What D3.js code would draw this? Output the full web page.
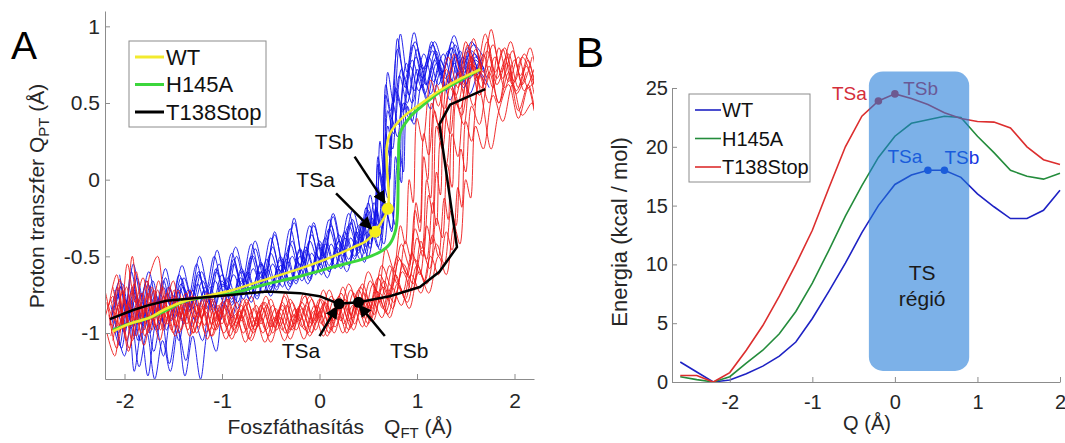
<!DOCTYPE html>
<html lang="hu">
<head>
    <meta charset="UTF-8">
    <title>Proton transzfer és energiaprofil</title>
    <script src="https://d3js.org/d3.v7.min.js"></script>
    <style>
        body {
            margin: 0;
            background-color: #ffffff;
            font-family: "Liberation Sans", Arial, sans-serif;
        }

        svg text {
            fill: #262626;
        }
    </style>
</head>
<body>
    <svg id="chart" width="1065" height="443"></svg>

    <script>
        // ---------- A panel adatai ----------
        const ticksAx = [-2, -1, 0, 1, 2];
        const ticksAy = [-1, -0.5, 0, 0.5, 1];

        // WT (kék) trajektóriák [Q_FT, Q_PT]
        const blueTraj1 = [[-2.12,-0.8],[-2.05,-0.66],[-1.98,-0.9],[-1.9,-0.72],[-1.82,-0.95],[-1.74,-0.7],[-1.66,-0.86],[-1.58,-0.64],[-1.5,-0.82],[-1.42,-0.68],[-1.33,-0.85],[-1.24,-0.62],[-1.15,-0.78],[-1.06,-0.6],[-0.97,-0.76],[-0.88,-0.55],[-0.79,-0.72],[-0.7,-0.5],[-0.6,-0.68],[-0.5,-0.48],[-0.4,-0.64],[-0.3,-0.42],[-0.2,-0.6],[-0.1,-0.4],[0.0,-0.56],[0.1,-0.32],[0.2,-0.5],[0.3,-0.3],[0.4,-0.46],[0.5,-0.2],[0.56,-0.35],[0.62,0.05],[0.66,-0.1],[0.7,0.45],[0.76,0.3],[0.84,0.72],[0.92,0.55],[1.0,0.85],[1.1,0.62],[1.2,0.8],[1.3,0.6],[1.4,0.82],[1.5,0.66],[1.6,0.8],[1.7,0.7]];
        const blueTraj2 = [[-2.1,-0.9],[-2.03,-1.1],[-1.96,-0.85],[-1.9,-1.25],[-1.83,-1.0],[-1.76,-1.28],[-1.68,-0.95],[-1.6,-1.15],[-1.52,-0.88],[-1.44,-1.05],[-1.36,-0.8],[-1.27,-0.92],[-1.18,-0.72],[-1.09,-0.86],[-1.0,-0.66],[-0.9,-0.8],[-0.8,-0.6],[-0.7,-0.74],[-0.6,-0.55],[-0.5,-0.7],[-0.4,-0.52],[-0.3,-0.66],[-0.2,-0.45],[-0.1,-0.62],[0.0,-0.4],[0.1,-0.56],[0.2,-0.36],[0.3,-0.52],[0.4,-0.3],[0.48,-0.44],[0.56,-0.15],[0.62,-0.3],[0.68,0.2],[0.72,0.0],[0.78,0.6],[0.86,0.45],[0.95,0.78],[1.05,0.6],[1.15,0.9],[1.25,0.68],[1.35,0.86],[1.45,0.62],[1.55,0.8],[1.65,0.68]];
        const blueTraj3 = [[-2.08,-0.7],[-2.0,-0.88],[-1.93,-0.6],[-1.85,-0.82],[-1.77,-0.66],[-1.69,-0.9],[-1.6,-0.7],[-1.52,-0.84],[-1.44,-0.62],[-1.35,-0.78],[-1.26,-0.55],[-1.17,-0.74],[-1.08,-0.5],[-0.99,-0.7],[-0.9,-0.48],[-0.8,-0.68],[-0.7,-0.42],[-0.6,-0.64],[-0.5,-0.38],[-0.4,-0.6],[-0.3,-0.32],[-0.2,-0.56],[-0.1,-0.3],[0.0,-0.52],[0.1,-0.26],[0.2,-0.48],[0.3,-0.22],[0.4,-0.44],[0.48,-0.18],[0.55,-0.36],[0.6,0.1],[0.64,-0.05],[0.68,0.55],[0.74,0.4],[0.8,0.92],[0.88,0.6],[0.96,0.88],[1.06,0.66],[1.16,0.84],[1.26,0.7],[1.36,0.9],[1.46,0.7],[1.56,0.84],[1.66,0.74]];
        const blueTraj4 = [[-2.15,-0.95],[-2.07,-0.75],[-2.0,-1.0],[-1.92,-0.8],[-1.84,-1.05],[-1.76,-0.82],[-1.68,-0.98],[-1.6,-0.76],[-1.52,-0.92],[-1.43,-0.72],[-1.34,-0.86],[-1.25,-0.68],[-1.16,-0.84],[-1.07,-0.66],[-0.98,-0.8],[-0.88,-0.62],[-0.78,-0.78],[-0.68,-0.58],[-0.58,-0.74],[-0.48,-0.55],[-0.38,-0.7],[-0.28,-0.5],[-0.18,-0.66],[-0.08,-0.48],[0.02,-0.62],[0.12,-0.42],[0.22,-0.58],[0.32,-0.38],[0.42,-0.52],[0.52,-0.3],[0.6,-0.44],[0.68,-0.2],[0.74,-0.32],[0.8,0.1],[0.84,-0.02],[0.88,0.5],[0.95,0.38],[1.02,0.7],[1.1,0.52],[1.2,0.76],[1.3,0.58],[1.4,0.8],[1.5,0.62],[1.6,0.78],[1.72,0.66]];
        const blueTraj5 = [[-2.1,-0.72],[-2.02,-0.95],[-1.94,-0.78],[-1.86,-1.05],[-1.78,-0.85],[-1.7,-1.12],[-1.62,-0.9],[-1.54,-1.2],[-1.46,-0.95],[-1.38,-1.28],[-1.3,-1.02],[-1.22,-1.3],[-1.14,-0.98],[-1.06,-1.12],[-0.98,-0.8],[-0.9,-0.9],[-0.8,-0.66],[-0.7,-0.8],[-0.6,-0.6],[-0.5,-0.76],[-0.4,-0.56],[-0.3,-0.7],[-0.2,-0.5],[-0.1,-0.66],[0.0,-0.44],[0.1,-0.6],[0.2,-0.4],[0.3,-0.55],[0.38,-0.34],[0.46,-0.48],[0.54,-0.25],[0.6,-0.38],[0.65,0.0],[0.7,-0.12],[0.74,0.4],[0.8,0.28],[0.87,0.66],[0.95,0.5],[1.04,0.74],[1.14,0.56],[1.24,0.78],[1.34,0.62],[1.44,0.84],[1.54,0.66],[1.64,0.78]];
        const blueTraj6 = [[-2.05,-0.62],[-1.98,-0.8],[-1.91,-0.55],[-1.83,-0.76],[-1.75,-0.6],[-1.67,-0.8],[-1.58,-0.58],[-1.5,-0.76],[-1.41,-0.56],[-1.32,-0.74],[-1.23,-0.5],[-1.14,-0.7],[-1.05,-0.46],[-0.96,-0.68],[-0.86,-0.44],[-0.76,-0.64],[-0.66,-0.4],[-0.56,-0.62],[-0.46,-0.36],[-0.36,-0.58],[-0.26,-0.28],[-0.16,-0.54],[-0.06,-0.3],[0.04,-0.5],[0.14,-0.22],[0.24,-0.46],[0.34,-0.2],[0.44,-0.4],[0.52,-0.1],[0.58,-0.3],[0.62,0.25],[0.66,0.05],[0.7,0.7],[0.76,0.5],[0.83,0.95],[0.9,0.7],[0.98,0.9],[1.08,0.72],[1.18,0.9],[1.28,0.74],[1.38,0.94],[1.48,0.76],[1.58,0.88],[1.68,0.8]];
        const blueTraj7 = [[-2.12,-0.88],[-2.04,-0.7],[-1.96,-0.92],[-1.88,-0.76],[-1.8,-0.98],[-1.72,-0.78],[-1.64,-0.94],[-1.56,-0.74],[-1.48,-0.9],[-1.4,-0.7],[-1.3,-0.84],[-1.2,-0.66],[-1.1,-0.82],[-1.0,-0.62],[-0.9,-0.78],[-0.8,-0.58],[-0.7,-0.74],[-0.6,-0.54],[-0.5,-0.72],[-0.4,-0.5],[-0.3,-0.68],[-0.2,-0.46],[-0.1,-0.64],[0.0,-0.42],[0.1,-0.6],[0.2,-0.4],[0.3,-0.56],[0.4,-0.34],[0.5,-0.5],[0.58,-0.28],[0.66,-0.42],[0.72,-0.15],[0.78,-0.3],[0.82,0.2],[0.86,0.05],[0.9,0.48],[0.97,0.36],[1.05,0.62],[1.14,0.46],[1.24,0.7],[1.34,0.52],[1.44,0.72],[1.54,0.56],[1.64,0.7],[1.74,0.6]];
        const blueTraj8 = [[-2.08,-0.98],[-2.0,-1.15],[-1.93,-0.92],[-1.85,-1.22],[-1.77,-1.0],[-1.69,-1.3],[-1.61,-1.05],[-1.53,-1.25],[-1.45,-0.98],[-1.37,-1.18],[-1.29,-0.9],[-1.2,-1.05],[-1.11,-0.78],[-1.02,-0.92],[-0.93,-0.7],[-0.84,-0.84],[-0.74,-0.62],[-0.64,-0.78],[-0.54,-0.58],[-0.44,-0.72],[-0.34,-0.52],[-0.24,-0.68],[-0.14,-0.46],[-0.04,-0.62],[0.06,-0.42],[0.16,-0.58],[0.26,-0.38],[0.36,-0.52],[0.44,-0.3],[0.52,-0.45],[0.58,-0.18],[0.64,-0.32],[0.68,0.3],[0.72,0.15],[0.78,0.58],[0.85,0.44],[0.93,0.74],[1.02,0.58],[1.12,0.8],[1.22,0.62],[1.32,0.84],[1.42,0.68],[1.52,0.86],[1.62,0.72]];
        const blueTraj9 = [[-2.1,-0.85],[-2.02,-0.68],[-1.95,-0.88],[-1.87,-0.64],[-1.79,-0.84],[-1.71,-0.66],[-1.63,-0.86],[-1.55,-0.7],[-1.47,-0.82],[-1.39,-0.64],[-1.3,-0.8],[-1.21,-0.6],[-1.12,-0.76],[-1.03,-0.55],[-0.94,-0.72],[-0.85,-0.5],[-0.76,-0.7],[-0.66,-0.45],[-0.56,-0.66],[-0.46,-0.34],[-0.36,-0.62],[-0.26,-0.25],[-0.16,-0.58],[-0.06,-0.28],[0.04,-0.54],[0.14,-0.24],[0.24,-0.5],[0.34,-0.26],[0.42,-0.44],[0.5,-0.15],[0.56,-0.32],[0.6,0.15],[0.64,0.0],[0.68,0.62],[0.73,0.45],[0.8,0.85],[0.88,0.66],[0.97,0.96],[1.06,0.72],[1.16,0.88],[1.26,0.7],[1.36,0.86],[1.46,0.72],[1.56,0.9],[1.66,0.76]];
        const blueTraj10 = [[-2.14,-0.82],[-2.06,-1.0],[-1.99,-0.78],[-1.91,-0.96],[-1.83,-0.74],[-1.75,-0.92],[-1.67,-0.76],[-1.59,-0.95],[-1.51,-0.78],[-1.43,-0.9],[-1.35,-0.72],[-1.26,-0.88],[-1.17,-0.7],[-1.08,-0.84],[-0.99,-0.68],[-0.9,-0.82],[-0.81,-0.64],[-0.72,-0.78],[-0.62,-0.6],[-0.52,-0.74],[-0.42,-0.58],[-0.32,-0.72],[-0.22,-0.54],[-0.12,-0.68],[-0.02,-0.5],[0.08,-0.64],[0.18,-0.44],[0.28,-0.6],[0.38,-0.4],[0.46,-0.54],[0.54,-0.32],[0.62,-0.46],[0.68,-0.2],[0.74,-0.34],[0.78,0.15],[0.82,0.0],[0.86,0.5],[0.92,0.4],[1.0,0.72],[1.08,0.56],[1.18,0.78],[1.28,0.6],[1.38,0.76],[1.48,0.6],[1.58,0.74],[1.7,0.62]];
        const blueTraj11 = [[-2.06,-0.75],[-1.99,-0.95],[-1.92,-0.7],[-1.84,-0.9],[-1.76,-0.68],[-1.68,-0.88],[-1.6,-0.66],[-1.51,-0.86],[-1.42,-0.64],[-1.33,-0.82],[-1.24,-0.6],[-1.15,-0.8],[-1.06,-0.58],[-0.97,-0.76],[-0.88,-0.52],[-0.78,-0.74],[-0.68,-0.5],[-0.58,-0.7],[-0.48,-0.44],[-0.38,-0.66],[-0.28,-0.4],[-0.18,-0.62],[-0.08,-0.36],[0.02,-0.58],[0.12,-0.3],[0.22,-0.54],[0.32,-0.28],[0.4,-0.48],[0.48,-0.22],[0.54,-0.4],[0.6,-0.05],[0.65,-0.2],[0.7,0.35],[0.75,0.2],[0.82,0.68],[0.9,0.5],[0.99,0.8],[1.09,0.62],[1.19,0.84],[1.29,0.66],[1.39,0.88],[1.49,0.7],[1.59,0.82],[1.69,0.72]];
        const blueTraj12 = [[-2.13,-0.9],[-2.05,-1.08],[-1.98,-0.82],[-1.9,-1.02],[-1.82,-0.8],[-1.74,-1.0],[-1.66,-0.78],[-1.57,-0.98],[-1.48,-0.76],[-1.39,-0.94],[-1.3,-0.72],[-1.21,-0.9],[-1.12,-0.7],[-1.03,-0.86],[-0.94,-0.64],[-0.84,-0.8],[-0.74,-0.6],[-0.64,-0.76],[-0.54,-0.52],[-0.44,-0.7],[-0.34,-0.48],[-0.24,-0.66],[-0.14,-0.44],[-0.04,-0.6],[0.06,-0.38],[0.16,-0.56],[0.26,-0.34],[0.36,-0.5],[0.44,-0.26],[0.52,-0.42],[0.58,-0.2],[0.63,-0.36],[0.67,0.1],[0.71,-0.05],[0.75,0.5],[0.81,0.36],[0.89,0.76],[0.97,0.58],[1.07,0.82],[1.17,0.64],[1.27,0.82],[1.37,0.64],[1.47,0.8],[1.57,0.68],[1.67,0.8]];

        // T138Stop (piros) trajektóriák
        const redTraj1 = [[-2.18,-0.8],[-2.1,-1.0],[-2.02,-0.72],[-1.95,-0.95],[-1.88,-0.6],[-1.8,-0.88],[-1.72,-0.7],[-1.64,-0.92],[-1.56,-0.74],[-1.48,-0.95],[-1.4,-0.78],[-1.31,-0.96],[-1.22,-0.8],[-1.13,-0.98],[-1.04,-0.82],[-0.95,-0.96],[-0.85,-0.8],[-0.75,-0.98],[-0.65,-0.82],[-0.55,-0.98],[-0.45,-0.84],[-0.35,-1.0],[-0.25,-0.84],[-0.15,-0.98],[-0.05,-0.82],[0.05,-0.96],[0.15,-0.78],[0.25,-0.94],[0.35,-0.74],[0.45,-0.9],[0.55,-0.68],[0.65,-0.84],[0.75,-0.58],[0.85,-0.74],[0.95,-0.48],[1.03,-0.62],[1.1,-0.3],[1.15,-0.42],[1.2,0.05],[1.24,-0.1],[1.28,0.45],[1.34,0.3],[1.42,0.7],[1.5,0.52],[1.6,0.85],[1.7,0.62],[1.8,0.8],[1.9,0.6],[2.0,0.78],[2.1,0.58],[2.2,0.72]];
        const redTraj2 = [[-2.15,-0.95],[-2.07,-0.7],[-2.0,-0.98],[-1.92,-0.5],[-1.85,-0.86],[-1.77,-0.66],[-1.69,-0.9],[-1.61,-0.7],[-1.53,-0.92],[-1.45,-0.72],[-1.36,-0.94],[-1.27,-0.76],[-1.18,-0.95],[-1.09,-0.78],[-1.0,-0.94],[-0.9,-0.76],[-0.8,-0.92],[-0.7,-0.76],[-0.6,-0.94],[-0.5,-0.78],[-0.4,-0.95],[-0.3,-0.78],[-0.2,-0.92],[-0.1,-0.76],[0.0,-0.9],[0.1,-0.72],[0.2,-0.88],[0.3,-0.68],[0.4,-0.82],[0.5,-0.6],[0.6,-0.74],[0.68,-0.45],[0.76,-0.58],[0.83,-0.3],[0.88,-0.42],[0.92,0.0],[0.96,-0.15],[1.0,0.4],[1.06,0.25],[1.14,0.65],[1.22,0.48],[1.32,0.8],[1.42,0.6],[1.52,0.88],[1.62,0.66],[1.72,0.84],[1.82,0.62],[1.92,0.76],[2.02,0.56],[2.12,0.7]];
        const redTraj3 = [[-2.12,-1.05],[-2.04,-0.85],[-1.96,-1.12],[-1.88,-0.9],[-1.8,-1.08],[-1.72,-0.88],[-1.64,-1.05],[-1.56,-0.86],[-1.48,-1.02],[-1.39,-0.84],[-1.3,-1.0],[-1.2,-0.84],[-1.1,-1.02],[-1.0,-0.86],[-0.9,-1.04],[-0.8,-0.88],[-0.7,-1.05],[-0.6,-0.9],[-0.5,-1.06],[-0.4,-0.9],[-0.3,-1.04],[-0.2,-0.88],[-0.1,-1.02],[0.0,-0.86],[0.1,-1.0],[0.2,-0.84],[0.3,-0.98],[0.4,-0.8],[0.5,-0.94],[0.6,-0.76],[0.7,-0.88],[0.8,-0.68],[0.9,-0.8],[1.0,-0.56],[1.1,-0.68],[1.2,-0.42],[1.28,-0.55],[1.35,-0.2],[1.4,-0.3],[1.45,0.2],[1.5,0.05],[1.56,0.48],[1.64,0.36],[1.74,0.7],[1.84,0.5],[1.94,0.82],[2.04,0.6],[2.14,0.78],[2.22,0.55]];
        const redTraj4 = [[-2.2,-0.72],[-2.12,-0.9],[-2.05,-0.65],[-1.97,-0.86],[-1.9,-0.68],[-1.82,-0.9],[-1.74,-0.62],[-1.66,-0.5],[-1.58,-0.8],[-1.5,-0.66],[-1.42,-0.88],[-1.33,-0.72],[-1.24,-0.9],[-1.15,-0.74],[-1.06,-0.92],[-0.97,-0.76],[-0.88,-0.94],[-0.78,-0.78],[-0.68,-0.96],[-0.58,-0.8],[-0.48,-0.96],[-0.38,-0.8],[-0.28,-0.96],[-0.18,-0.8],[-0.08,-0.94],[0.02,-0.78],[0.12,-0.92],[0.22,-0.74],[0.32,-0.88],[0.42,-0.7],[0.52,-0.84],[0.62,-0.62],[0.72,-0.76],[0.82,-0.52],[0.92,-0.64],[1.0,-0.38],[1.06,-0.5],[1.12,-0.1],[1.16,-0.22],[1.2,0.35],[1.26,0.2],[1.34,0.6],[1.44,0.46],[1.54,0.78],[1.64,0.55],[1.74,0.74],[1.84,0.5],[1.94,0.7],[2.04,0.45],[2.14,0.62],[2.2,0.48]];
        const redTraj5 = [[-2.16,-0.88],[-2.08,-1.1],[-2.0,-0.86],[-1.92,-1.05],[-1.84,-0.82],[-1.76,-1.0],[-1.68,-0.8],[-1.6,-0.98],[-1.52,-0.82],[-1.44,-1.0],[-1.35,-0.84],[-1.26,-1.0],[-1.17,-0.86],[-1.08,-0.98],[-0.98,-0.82],[-0.88,-0.98],[-0.78,-0.84],[-0.68,-1.0],[-0.58,-0.84],[-0.48,-1.0],[-0.38,-0.82],[-0.28,-0.98],[-0.18,-0.84],[-0.08,-1.0],[0.02,-0.84],[0.12,-0.98],[0.22,-0.8],[0.32,-0.96],[0.42,-0.78],[0.52,-0.92],[0.62,-0.74],[0.72,-0.9],[0.82,-0.7],[0.92,-0.84],[1.02,-0.6],[1.12,-0.74],[1.22,-0.5],[1.3,-0.62],[1.38,-0.3],[1.44,-0.42],[1.5,0.0],[1.55,-0.12],[1.6,0.35],[1.68,0.2],[1.78,0.55],[1.88,0.38],[1.98,0.62],[2.08,0.42],[2.18,0.5],[2.22,0.4]];
        const redTraj6 = [[-2.14,-0.78],[-2.06,-0.96],[-1.98,-0.7],[-1.9,-0.92],[-1.82,-0.74],[-1.74,-0.96],[-1.66,-0.72],[-1.58,-0.94],[-1.5,-0.76],[-1.42,-0.98],[-1.33,-0.8],[-1.24,-0.96],[-1.15,-0.8],[-1.06,-0.98],[-0.96,-0.82],[-0.86,-1.0],[-0.76,-0.82],[-0.66,-0.98],[-0.56,-0.8],[-0.46,-0.96],[-0.36,-0.76],[-0.26,-0.94],[-0.16,-0.74],[-0.06,-0.92],[0.04,-0.72],[0.14,-0.92],[0.24,-0.7],[0.34,-0.9],[0.44,-0.68],[0.54,-0.84],[0.64,-0.56],[0.74,-0.7],[0.84,-0.42],[0.92,-0.56],[0.98,-0.2],[1.03,-0.34],[1.07,0.15],[1.11,0.0],[1.15,0.5],[1.22,0.36],[1.3,0.72],[1.4,0.55],[1.5,0.9],[1.6,0.68],[1.7,0.95],[1.8,0.7],[1.9,0.86],[2.0,0.64],[2.1,0.82],[2.2,0.66]];
        const redTraj7 = [[-2.18,-1.0],[-2.1,-1.15],[-2.03,-0.9],[-1.95,-1.1],[-1.87,-0.85],[-1.79,-1.02],[-1.71,-0.8],[-1.63,-0.98],[-1.55,-0.78],[-1.47,-0.96],[-1.38,-0.8],[-1.29,-1.0],[-1.2,-0.82],[-1.11,-1.02],[-1.02,-0.84],[-0.92,-1.02],[-0.82,-0.86],[-0.72,-1.04],[-0.62,-0.86],[-0.52,-1.02],[-0.42,-0.86],[-0.32,-1.0],[-0.22,-0.84],[-0.12,-1.0],[-0.02,-0.82],[0.08,-1.02],[0.18,-0.82],[0.28,-1.0],[0.38,-0.8],[0.48,-0.96],[0.58,-0.72],[0.68,-0.86],[0.78,-0.62],[0.88,-0.78],[0.98,-0.52],[1.08,-0.66],[1.16,-0.36],[1.22,-0.5],[1.28,-0.12],[1.32,-0.26],[1.36,0.3],[1.42,0.15],[1.5,0.62],[1.58,0.48],[1.68,0.82],[1.78,0.6],[1.88,0.85],[1.98,0.62],[2.08,0.8],[2.2,0.62]];
        const redTraj8 = [[-2.12,-0.7],[-2.04,-0.88],[-1.97,-0.55],[-1.89,-0.8],[-1.81,-0.64],[-1.73,-0.86],[-1.65,-0.66],[-1.57,-0.9],[-1.49,-0.72],[-1.41,-0.92],[-1.32,-0.76],[-1.23,-0.94],[-1.14,-0.76],[-1.05,-0.96],[-0.95,-0.78],[-0.85,-0.96],[-0.75,-0.78],[-0.65,-0.94],[-0.55,-0.76],[-0.45,-0.92],[-0.35,-0.74],[-0.25,-0.9],[-0.15,-0.76],[-0.05,-0.94],[0.05,-0.8],[0.15,-1.0],[0.25,-0.82],[0.35,-0.98],[0.45,-0.78],[0.55,-0.92],[0.65,-0.7],[0.75,-0.84],[0.85,-0.6],[0.95,-0.72],[1.05,-0.46],[1.13,-0.58],[1.2,-0.25],[1.26,-0.38],[1.31,0.1],[1.36,-0.05],[1.4,0.5],[1.48,0.36],[1.56,0.8],[1.66,0.6],[1.76,0.98],[1.86,0.7],[1.96,0.9],[2.06,0.68],[2.16,0.86],[2.22,0.7]];
        const redTraj9 = [[-2.2,-0.9],[-2.12,-0.76],[-2.04,-0.98],[-1.96,-0.8],[-1.88,-1.02],[-1.8,-0.82],[-1.72,-0.98],[-1.64,-0.8],[-1.56,-0.94],[-1.48,-0.78],[-1.39,-0.92],[-1.3,-0.76],[-1.21,-0.9],[-1.12,-0.76],[-1.03,-0.92],[-0.94,-0.78],[-0.84,-0.94],[-0.74,-0.8],[-0.64,-0.96],[-0.54,-0.82],[-0.44,-0.98],[-0.34,-0.82],[-0.24,-0.98],[-0.14,-0.82],[-0.04,-0.98],[0.06,-0.8],[0.16,-0.96],[0.26,-0.78],[0.36,-0.94],[0.46,-0.74],[0.56,-0.88],[0.66,-0.66],[0.76,-0.8],[0.86,-0.55],[0.96,-0.68],[1.04,-0.4],[1.1,-0.52],[1.16,-0.15],[1.2,-0.3],[1.24,0.25],[1.3,0.1],[1.38,0.58],[1.46,0.42],[1.56,0.76],[1.66,0.55],[1.76,0.2],[1.84,0.45],[1.94,0.62],[2.04,0.4],[2.14,0.6],[2.2,0.45]];
        const redTraj10 = [[-2.16,-0.82],[-2.08,-0.62],[-2.0,-0.9],[-1.92,-0.72],[-1.84,-0.94],[-1.76,-0.74],[-1.68,-0.96],[-1.6,-0.76],[-1.52,-0.98],[-1.44,-0.8],[-1.35,-0.98],[-1.26,-0.82],[-1.17,-1.0],[-1.08,-0.84],[-0.98,-1.0],[-0.88,-0.84],[-0.78,-1.0],[-0.68,-0.84],[-0.58,-1.0],[-0.48,-0.82],[-0.38,-0.98],[-0.28,-0.8],[-0.18,-0.96],[-0.08,-0.78],[0.02,-0.94],[0.12,-0.76],[0.22,-0.92],[0.32,-0.72],[0.42,-0.88],[0.52,-0.66],[0.62,-0.8],[0.72,-0.56],[0.8,-0.68],[0.88,-0.4],[0.94,-0.52],[0.99,-0.15],[1.03,-0.28],[1.07,0.3],[1.12,0.16],[1.2,0.62],[1.28,0.46],[1.38,0.82],[1.48,0.62],[1.58,0.92],[1.68,0.7],[1.78,0.88],[1.88,0.66],[1.98,0.84],[2.08,0.62],[2.18,0.8]];
        const redTraj11 = [[-2.1,-0.92],[-2.02,-0.74],[-1.94,-0.96],[-1.86,-0.78],[-1.78,-0.94],[-1.7,-0.72],[-1.62,-0.9],[-1.54,-0.7],[-1.46,-0.88],[-1.37,-0.74],[-1.28,-0.9],[-1.19,-0.78],[-1.1,-0.94],[-1.0,-0.8],[-0.9,-0.96],[-0.8,-0.82],[-0.7,-0.98],[-0.6,-0.82],[-0.5,-0.96],[-0.4,-0.84],[-0.3,-0.98],[-0.2,-0.82],[-0.1,-0.96],[0.0,-0.78],[0.1,-0.94],[0.2,-0.76],[0.3,-0.92],[0.4,-0.72],[0.5,-0.86],[0.6,-0.64],[0.7,-0.78],[0.8,-0.5],[0.9,-0.62],[0.98,-0.32],[1.05,-0.45],[1.1,0.0],[1.14,-0.12],[1.18,0.45],[1.24,0.3],[1.32,0.68],[1.42,0.5],[1.52,0.84],[1.62,0.64],[1.72,0.9],[1.82,0.66],[1.92,0.8],[2.02,0.58],[2.12,0.74],[2.2,0.56]];
        const redTraj12 = [[-2.14,-1.02],[-2.06,-0.82],[-1.98,-1.05],[-1.9,-0.84],[-1.82,-1.0],[-1.74,-0.8],[-1.66,-0.98],[-1.58,-0.82],[-1.5,-1.0],[-1.42,-0.84],[-1.33,-1.02],[-1.24,-0.86],[-1.15,-1.04],[-1.06,-0.86],[-0.96,-1.04],[-0.86,-0.88],[-0.76,-1.06],[-0.66,-0.9],[-0.56,-1.06],[-0.46,-0.9],[-0.36,-1.05],[-0.26,-0.88],[-0.16,-1.04],[-0.06,-0.86],[0.04,-1.02],[0.14,-0.84],[0.24,-1.0],[0.34,-0.82],[0.44,-0.96],[0.54,-0.78],[0.64,-0.9],[0.74,-0.7],[0.84,-0.82],[0.94,-0.62],[1.04,-0.74],[1.14,-0.5],[1.22,-0.62],[1.3,-0.34],[1.36,-0.46],[1.42,-0.05],[1.46,-0.18],[1.5,0.38],[1.56,0.25],[1.64,0.68],[1.74,0.5],[1.84,0.86],[1.94,0.64],[2.04,0.8],[2.14,0.6],[2.22,0.66]];

        const blueTrajs = [blueTraj1, blueTraj2, blueTraj3, blueTraj4, blueTraj5, blueTraj6,
                           blueTraj7, blueTraj8, blueTraj9, blueTraj10, blueTraj11, blueTraj12];
        const redTrajs = [redTraj1, redTraj2, redTraj3, redTraj4, redTraj5, redTraj6,
                          redTraj7, redTraj8, redTraj9, redTraj10, redTraj11, redTraj12];

        // átlagos útvonalak
        const pathWT = [[-2.12,-0.99],[-1.95,-0.94],[-1.74,-0.9],[-1.6,-0.85],[-1.37,-0.79],[-1.1,-0.75],[-0.89,-0.72],[-0.6,-0.66],[-0.2,-0.58],[0.14,-0.5],[0.35,-0.44],[0.48,-0.4],[0.57,-0.34],[0.7,-0.19],[0.69,0.1],[0.69,0.22],[0.73,0.31],[0.86,0.41],[1.05,0.5],[1.23,0.58],[1.45,0.66],[1.65,0.72]];
        const pathH145A = [[-2.12,-0.98],[-1.95,-0.94],[-1.74,-0.9],[-1.6,-0.86],[-1.37,-0.79],[-1.1,-0.76],[-0.89,-0.74],[-0.6,-0.69],[-0.2,-0.63],[0.14,-0.57],[0.48,-0.51],[0.65,-0.46],[0.72,-0.42],[0.78,-0.33],[0.8,-0.22],[0.81,0.13],[0.83,0.31],[0.93,0.41],[1.05,0.48],[1.23,0.57],[1.45,0.65],[1.65,0.72]];
        const pathT138 = [[-2.15,-0.91],[-1.91,-0.85],[-1.76,-0.82],[-1.57,-0.79],[-1.23,-0.77],[-0.89,-0.75],[-0.54,-0.73],[-0.2,-0.74],[0.0,-0.76],[0.2,-0.81],[0.4,-0.8],[0.72,-0.76],[1.03,-0.7],[1.23,-0.6],[1.41,-0.44],[1.23,0.36],[1.34,0.49],[1.7,0.59]];

        const tsWT = [[0.57, -0.34], [0.7, -0.19]];
        const tsT138 = [[0.2, -0.81], [0.4, -0.8]];

        // feliratok és nyilak (szöveg, hely, nyíl kezdete, nyíl vége)
        const labelsA = ["TSb", "TSa", "TSa", "TSb"];
        const labelPosA = [[0.15, 0.2], [-0.04, -0.05], [-0.19, -1.16], [0.92, -1.16]];
        const arrowFromA = [[0.36, 0.15], [0.17, -0.09], [0.0, -1.02], [0.67, -1.02]];
        const arrowToA = [[0.67, -0.15], [0.53, -0.32], [0.18, -0.83], [0.41, -0.82]];

        const legendNamesA = ["WT", "H145A", "T138Stop"];
        const legendColorsA = ["#f2ea2e", "#3cd63c", "#000000"];

        // ---------- B panel adatai ----------
        const qGrid = [-2.6,-2.4,-2.2,-2.0,-1.8,-1.6,-1.4,-1.2,-1.0,-0.8,-0.6,-0.4,-0.2,0,0.2,0.4,0.6,0.8,1.0,1.2,1.4,1.6,1.8,2.0];
        const energyWT = [1.7,0.85,0.0,0.17,0.7,1.35,2.2,3.4,5.4,7.7,10.1,12.7,15.0,16.8,17.6,18.0,18.0,17.4,16.0,14.9,13.9,13.9,14.6,16.3];
        const energyH145A = [0.45,0.2,0.0,0.45,1.6,2.7,4.1,6.0,8.4,11.2,14.1,16.7,19.1,20.9,22.0,22.3,22.6,22.5,20.9,19.5,18.0,17.5,17.25,17.75];
        const energyT138 = [0.55,0.55,0.0,0.8,2.7,4.8,7.3,10.0,12.9,16.5,20.0,22.6,23.9,24.5,24.1,23.6,22.9,22.4,22.15,22.1,21.6,20.0,18.9,18.5];

        const ticksBx = [-2, -1, 0, 1, 2];
        const ticksBy = [0, 5, 10, 15, 20, 25];

        const tsPointsRed = [[-0.2, 23.9], [0, 24.5]];
        const tsPointsBlue = [[0.4, 18.0], [0.6, 18.0]];
        const tsLabelsB = ["TSa", "TSb", "TSa", "TSb"];
        const tsLabelPosB = [[-0.34, 24.0], [0.1, 24.4], [-0.09, 18.6], [0.6, 18.5]];
        const tsRegion = [-0.315, 0.9, 0.94, 26.4];   // x0, x1, y0, y1

        const legendNamesB = ["WT", "H145A", "T138Stop"];
        const legendColorsB = ["#1e22c4", "#248c3c", "#dc2e2e"];

        // ---------- rajzolás ----------
        const FONT = '"Liberation Sans", Arial, sans-serif';
        const AXIS_COLOR = "#8c8c8c";
        const svg = d3.select("#chart");

        function styleAxis(sel, size) {
            sel.attr("font-family", FONT).attr("font-size", size);
            sel.select(".domain").attr("stroke", AXIS_COLOR);
            sel.selectAll(".tick line").attr("stroke", AXIS_COLOR);
            sel.selectAll(".tick text").attr("fill", "#262626");
        }

        // ===== A panel =====
        const xA = d3.scaleLinear().domain([-2.2, 2.2]).range([105, 534]);
        const yA = d3.scaleLinear().domain([-1.3, 1.1]).range([379, 11]);

        svg.append("clipPath").attr("id", "clipA")
            .append("rect")
            .attr("x", xA(-2.2)).attr("y", yA(1.1))
            .attr("width", xA(2.2) - xA(-2.2))
            .attr("height", yA(-1.3) - yA(1.1));

        const gA = svg.append("g");
        const plotA = gA.append("g").attr("clip-path", "url(#clipA)");

        const wiggle = d3.line()
            .x(d => xA(d[0]))
            .y(d => yA(d[1]))
            .curve(d3.curveCatmullRom.alpha(0.5));

        plotA.selectAll(".blue-traj")
            .data(blueTrajs)
            .enter()
            .append("path")
            .attr("class", "blue-traj")
            .attr("d", wiggle)
            .attr("fill", "none")
            .attr("stroke", "#1010e8")
            .attr("stroke-width", 1)
            .attr("stroke-opacity", 0.9);

        plotA.selectAll(".red-traj")
            .data(redTrajs)
            .enter()
            .append("path")
            .attr("class", "red-traj")
            .attr("d", wiggle)
            .attr("fill", "none")
            .attr("stroke", "#ee1a1a")
            .attr("stroke-width", 1)
            .attr("stroke-opacity", 0.9);

        const smoothA = d3.line()
            .x(d => xA(d[0]))
            .y(d => yA(d[1]))
            .curve(d3.curveCatmullRom.alpha(0.5));
        const straightA = d3.line()
            .x(d => xA(d[0]))
            .y(d => yA(d[1]));

        plotA.append("path").attr("d", smoothA(pathH145A))
            .attr("fill", "none").attr("stroke", legendColorsA[1]).attr("stroke-width", 3);
        plotA.append("path").attr("d", smoothA(pathWT))
            .attr("fill", "none").attr("stroke", legendColorsA[0]).attr("stroke-width", 2.5);
        plotA.append("path").attr("d", straightA(pathT138))
            .attr("fill", "none").attr("stroke", "#000").attr("stroke-width", 2.5)
            .attr("stroke-linejoin", "round");

        plotA.selectAll(".ts-wt")
            .data(tsWT)
            .enter()
            .append("circle")
            .attr("cx", d => xA(d[0]))
            .attr("cy", d => yA(d[1]))
            .attr("r", 6)
            .attr("fill", "#f5ee1c");

        plotA.selectAll(".ts-t138")
            .data(tsT138)
            .enter()
            .append("circle")
            .attr("cx", d => xA(d[0]))
            .attr("cy", d => yA(d[1]))
            .attr("r", 5.5)
            .attr("fill", "#000");

        // nyilak
        svg.append("defs").append("marker")
            .attr("id", "arrowhead")
            .attr("viewBox", "0 0 10 10")
            .attr("refX", 9).attr("refY", 5)
            .attr("markerWidth", 5).attr("markerHeight", 5)
            .attr("markerUnits", "strokeWidth")
            .attr("orient", "auto")
            .append("path")
            .attr("d", "M0,0 L10,5 L0,10 Z")
            .attr("fill", "#000");

        gA.selectAll(".arrowA")
            .data(arrowFromA)
            .enter()
            .append("line")
            .attr("x1", d => xA(d[0]))
            .attr("y1", d => yA(d[1]))
            .attr("x2", (d, i) => xA(arrowToA[i][0]))
            .attr("y2", (d, i) => yA(arrowToA[i][1]))
            .attr("stroke", "#000")
            .attr("stroke-width", 2.5)
            .attr("marker-end", "url(#arrowhead)");

        gA.selectAll(".labelA")
            .data(labelsA)
            .enter()
            .append("text")
            .attr("x", (d, i) => xA(labelPosA[i][0]))
            .attr("y", (d, i) => yA(labelPosA[i][1]))
            .attr("text-anchor", "middle")
            .style("font-family", FONT)
            .style("font-size", "21px")
            .style("fill", "#111")
            .text(d => d);

        // tengelyek
        gA.append("g")
            .attr("transform", `translate(0,${yA(-1.3)})`)
            .call(d3.axisBottom(xA).tickValues(ticksAx).tickSizeInner(-5).tickSizeOuter(0)
                .tickPadding(14).tickFormat(d => String(d)))
            .call(styleAxis, 21);

        gA.append("g")
            .attr("transform", `translate(${xA(-2.2)},0)`)
            .call(d3.axisLeft(yA).tickValues(ticksAy).tickSizeInner(-5).tickSizeOuter(0)
                .tickPadding(5).tickFormat(d => String(d)))
            .call(styleAxis, 21);

        // tengelyfeliratok
        const yLabelA = gA.append("text")
            .attr("transform", "translate(44,196) rotate(-90)")
            .attr("text-anchor", "middle")
            .style("font-family", FONT)
            .style("font-size", "21px");
        yLabelA.append("tspan").text("Proton transzfer  Q");
        yLabelA.append("tspan").attr("dy", 5).style("font-size", "15px").text("PT");
        yLabelA.append("tspan").attr("dy", -5).text(" (Å)");

        const xLabelA = gA.append("text")
            .attr("x", 340)
            .attr("y", 434)
            .attr("text-anchor", "middle")
            .style("font-family", FONT)
            .style("font-size", "21px");
        xLabelA.append("tspan").text("Foszfáthasítás");
        xLabelA.append("tspan").attr("dx", 20).text("Q");
        xLabelA.append("tspan").attr("dy", 4).style("font-size", "15px").text("FT");
        xLabelA.append("tspan").attr("dy", -4).text(" (Å)");

        gA.append("text")
            .attr("x", 11).attr("y", 59)
            .style("font-family", FONT)
            .style("font-size", "39px")
            .style("fill", "#000")
            .text("A");

        // jelmagyarázat A
        const legA = gA.append("g");
        legA.append("rect")
            .attr("x", 129).attr("y", 41)
            .attr("width", 137).attr("height", 86)
            .attr("fill", "#fff")
            .attr("stroke", "#8c8c8c");
        legendNamesA.forEach((name, i) => {
            const yy = 57 + i * 27.5;
            legA.append("line")
                .attr("x1", 135).attr("x2", 164)
                .attr("y1", yy).attr("y2", yy)
                .attr("stroke", legendColorsA[i])
                .attr("stroke-width", 3);
            legA.append("text")
                .attr("x", 166).attr("y", yy)
                .attr("dy", "0.36em")
                .style("font-family", FONT)
                .style("font-size", "22px")
                .style("fill", "#111")
                .text(name);
        });

        // ===== B panel =====
        const xB = d3.scaleLinear().domain([-2.7, 2]).range([672, 1060]);
        const yB = d3.scaleLinear().domain([0, 25]).range([382, 88]);

        const gB = svg.append("g");

        const lineB = (values) => d3.line()
            .x((d, i) => xB(qGrid[i]))
            .y(d => yB(d))(values);

        [energyWT, energyH145A, energyT138].forEach((vals, i) => {
            gB.append("path")
                .attr("d", lineB(vals))
                .attr("fill", "none")
                .attr("stroke", legendColorsB[i])
                .attr("stroke-width", 1.6);
        });

        gB.selectAll(".ts-red")
            .data(tsPointsRed)
            .enter()
            .append("circle")
            .attr("cx", d => xB(d[0]))
            .attr("cy", d => yB(d[1]))
            .attr("r", 3.8)
            .attr("fill", legendColorsB[2]);

        gB.selectAll(".ts-blue")
            .data(tsPointsBlue)
            .enter()
            .append("circle")
            .attr("cx", d => xB(d[0]))
            .attr("cy", d => yB(d[1]))
            .attr("r", 3.8)
            .attr("fill", "#1636e0");

        gB.selectAll(".ts-label")
            .data(tsLabelsB)
            .enter()
            .append("text")
            .attr("x", (d, i) => xB(tsLabelPosB[i][0]))
            .attr("y", (d, i) => yB(tsLabelPosB[i][1]))
            .attr("text-anchor", (d, i) => i === 0 ? "end" : "start")
            .style("font-family", FONT)
            .style("font-size", "19px")
            .style("fill", (d, i) => i < 2 ? "#d42e3a" : "#1636e0")
            .text(d => d);

        // TS régió: áttetsző lekerekített téglalap a görbék fölött
        gB.append("rect")
            .attr("x", xB(tsRegion[0]))
            .attr("y", yB(tsRegion[3]))
            .attr("width", xB(tsRegion[1]) - xB(tsRegion[0]))
            .attr("height", yB(tsRegion[2]) - yB(tsRegion[3]))
            .attr("rx", 14)
            .attr("fill", "#1e78d7")
            .attr("fill-opacity", 0.58);

        const tsText = gB.append("text")
            .attr("text-anchor", "middle")
            .style("font-family", FONT)
            .style("font-size", "21px")
            .style("fill", "#1a1a1a");
        tsText.append("tspan").attr("x", xB(0.33)).attr("y", yB(8.7)).text("TS");
        tsText.append("tspan").attr("x", xB(0.33)).attr("y", yB(6.5)).text("régió");

        gB.append("g")
            .attr("transform", `translate(0,${yB(0)})`)
            .call(d3.axisBottom(xB).tickValues(ticksBx).tickSizeInner(-5).tickSizeOuter(0)
                .tickPadding(13).tickFormat(d => String(d)))
            .call(styleAxis, 20);

        gB.append("g")
            .attr("transform", `translate(${xB(-2.7)},0)`)
            .call(d3.axisLeft(yB).tickValues(ticksBy).tickSizeInner(-5).tickSizeOuter(0)
                .tickPadding(4).tickFormat(d => String(d)))
            .call(styleAxis, 20);

        gB.append("text")
            .attr("transform", "translate(627,232) rotate(-90)")
            .attr("text-anchor", "middle")
            .style("font-family", FONT)
            .style("font-size", "22px")
            .text("Energia (kcal / mol)");

        gB.append("text")
            .attr("x", 867).attr("y", 430)
            .attr("text-anchor", "middle")
            .style("font-family", FONT)
            .style("font-size", "20px")
            .text("Q (Å)");

        gB.append("text")
            .attr("x", 576).attr("y", 67)
            .style("font-family", FONT)
            .style("font-size", "42px")
            .style("fill", "#000")
            .text("B");

        // jelmagyarázat B
        const legB = gB.append("g");
        legB.append("rect")
            .attr("x", 689).attr("y", 94)
            .attr("width", 121).attr("height", 88)
            .attr("fill", "#fff")
            .attr("stroke", "#8c8c8c");
        legendNamesB.forEach((name, i) => {
            const yy = 110 + i * 28.5;
            legB.append("line")
                .attr("x1", 695).attr("x2", 721)
                .attr("y1", yy).attr("y2", yy)
                .attr("stroke", legendColorsB[i])
                .attr("stroke-width", 1.6);
            legB.append("text")
                .attr("x", 722).attr("y", yy)
                .attr("dy", "0.36em")
                .style("font-family", FONT)
                .style("font-size", "20px")
                .style("fill", "#111")
                .text(name);
        });
    </script>
</body>
</html>
